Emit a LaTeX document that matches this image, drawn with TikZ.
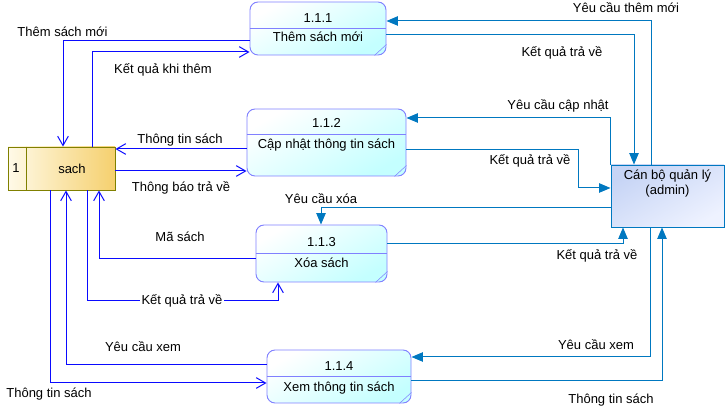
\documentclass[tikz,border=0pt]{standalone}
\usepackage{fontspec}
\setmainfont{Liberation Sans}
\usepackage{xcolor}
\usepackage{tikz}
\usetikzlibrary{arrows.meta}
\definecolor{procline}{RGB}{128,128,255}
\definecolor{procfill}{RGB}{196,255,255}
\definecolor{storeline}{RGB}{128,128,0}
\definecolor{storefill}{RGB}{245,208,110}
\definecolor{storelight}{RGB}{255,250,232}
\definecolor{admline}{RGB}{0,120,192}
\definecolor{admfill}{RGB}{198,212,245}
\definecolor{admlight}{RGB}{238,242,255}
\definecolor{flowblue}{RGB}{10,10,255}

\begin{document}
\begin{tikzpicture}[x=0.75pt,y=-0.75pt,font=\fontsize{9.75}{11.5}\selectfont,
 P/.style={draw=procline,line width=0.7pt,rounded corners=6pt,inner sep=0pt,top color=white,bottom color=procfill,shading angle=30},
 S/.style={draw=storeline,line width=0.7pt,inner sep=0pt,left color=storelight,right color=storefill},
 A/.style={draw=admline,line width=0.7pt,inner sep=0pt,top color=admfill,bottom color=admlight,shading angle=30},
 sf/.style={draw=flowblue,line width=0.75pt,-{Straight Barb[length=7pt,width=8pt]}},
 af/.style={draw=admline,line width=0.75pt,-{Triangle[length=8.5pt,width=7pt]}},
 lb/.style={inner sep=1pt}]
 \useasboundingbox (0,0) rectangle (725,409);
 % processes
 \node[P,minimum width=102pt,minimum height=39.75pt](p1) at (318,28.5){};
 \node[P,minimum width=119.25pt,minimum height=50.25pt](p2) at (326.5,142.5){};
 \node[P,minimum width=98.25pt,minimum height=42.75pt](p3) at (321.5,253.5){};
 \node[P,minimum width=108pt,minimum height=39.75pt](p4) at (339,376.5){};
 \draw[procline,line width=0.7pt](p1.west |- 0,28)--(p1.east |- 0,28);
 \draw[procline,line width=0.7pt](p2.west |- 0,134)--(p2.east |- 0,134);
 \draw[procline,line width=0.7pt](p3.west |- 0,253)--(p3.east |- 0,253);
 \draw[procline,line width=0.7pt](p4.west |- 0,376)--(p4.east |- 0,376);
 \draw[procline]([shift={(0,-11)}]p1.south east)--([shift={(-12,0)}]p1.south east);
 \draw[procline]([shift={(0,-11)}]p2.south east)--([shift={(-12,0)}]p2.south east);
 \draw[procline]([shift={(0,-11)}]p3.south east)--([shift={(-12,0)}]p3.south east);
 \draw[procline]([shift={(0,-11)}]p4.south east)--([shift={(-12,0)}]p4.south east);
 \node[anchor=base](n1) at (p1.center |- 0,23){1.1.1};
 \node[anchor=base](t1) at (p1.center |- 0,42){Thêm sách mới};
 \node[anchor=base](n2) at (p2.center |- 0,128){1.1.2};
 \node[anchor=base](t2) at (p2.center |- 0,149){Cập nhật thông tin sách};
 \node[anchor=base](n3) at (p3.center |- 0,247){1.1.3};
 \node[anchor=base](t3) at (p3.center |- 0,268){Xóa sách};
 \node[anchor=base](n4) at (p4.center |- 0,371){1.1.4};
 \node[anchor=base](t4) at (p4.center |- 0,392){Xem thông tin sách};
 % data store and admin
 \node[S,minimum width=80.25pt,minimum height=32.25pt](kho) at (61.5,168.5){};
 \draw[storeline,line width=0.7pt](kho.north -| 26,0)--(kho.south -| 26,0);
 \node(khoid) at (16,168.5){1};
 \node(khoname) at (72,168.5){sach};
 \node[A,minimum width=84.75pt,minimum height=46.5pt](admin) at (667.5,196){};
 \node[align=center,anchor=north,inner sep=0pt](admname) at ([yshift=-3.5pt]admin.north){Cán bộ quản lý\\(admin)};
 % flows between store and processes
 \draw[sf](p1.west |- 0,41) -| (kho.north -| 63,0);
 \draw[sf](kho.north -| 92,0) |- (p1.west |- 0,52);
 \draw[sf](p2.west |- 0,149) -- (kho.east |- 0,149);
 \draw[sf](kho.east |- 0,171) -- (p2.west |- 0,171);
 \draw[sf](p3.west |- 0,259) -| (kho.south -| 99,0);
 \draw[sf](kho.south -| 87,0) |- (278,301) -- (p3.south -| 278,0);
 \draw[sf](p4.west |- 0,365) -| (kho.south -| 66,0);
 \draw[sf](kho.south -| 50,0) |- (p4.west |- 0,383);
 \node[lb](f1) at (62.5,32){Thêm sách mới};
 \node[lb](f2) at (163,70){Kết quả khi thêm};
 \node[lb](f3) at (180,140){Thông tin sách};
 \node[lb](f4) at (181,188){Thông báo trả về};
 \node[lb](f5) at (180,237){Mã sách};
 \node[lb,fill=white](f6) at (182,301){Kết quả trả về};
 \node[lb](f7) at (143,347){Yêu cầu xem};
 \node[lb](f8) at (49,394){Thông tin sách};
 % flows between admin and processes
 \draw[af](admin.north -| 651,0) |- (p1.east |- 0,21);
 \draw[af](p1.east |- 0,35) -| (admin.north -| 634,0);
 \draw[af](admin.north west) |- (p2.east |- 0,118);
 \draw[af](p2.east |- 0,150) -| (578,188) -- (admin.west |- 0,188);
 \draw[af](admin.west |- 0,208) -| (p3.north -| 321,0);
 \draw[af](p3.east |- 0,244) -| (admin.south -| 623,0);
 \draw[af](admin.south -| 650,0) |- (p4.east |- 0,357);
 \draw[af](p4.east |- 0,381) -| (admin.south -| 662,0);
 \node[lb](g1) at (626,8){Yêu cầu thêm mới};
 \node[lb](g2) at (562,53){Kết quả trả về};
 \node[lb](g3) at (558,106){Yêu cầu cập nhật};
 \node[lb](g4) at (530,161){Kết quả trả về};
 \node[lb](g5) at (321,199){Yêu cầu xóa};
 \node[lb](g6) at (597,256){Kết quả trả về};
 \node[lb](g7) at (596,345){Yêu cầu xem};
 \node[lb](g8) at (611,400){Thông tin sách};
\end{tikzpicture}
\end{document}
